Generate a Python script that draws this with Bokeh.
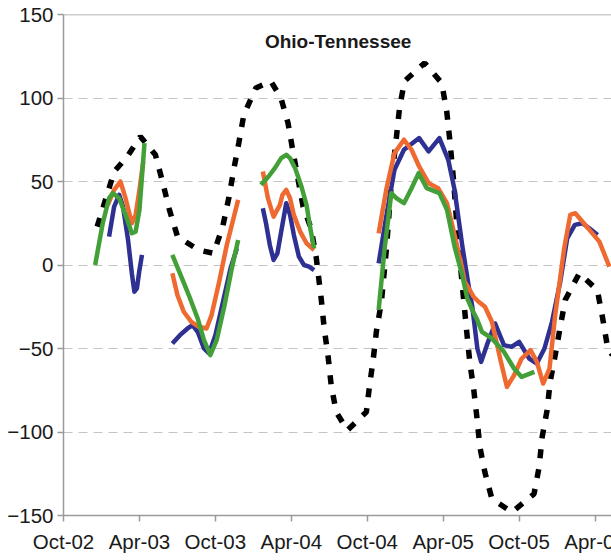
from bokeh.plotting import figure
from bokeh.models import FixedTicker, Span, Label
from bokeh.embed import file_html
from bokeh.resources import INLINE

nan = float("nan")

# x values are months since Oct-2002
tick_months = [0, 6, 12, 18, 24, 30, 36, 42]
tick_labels = ["Oct-02", "Apr-03", "Oct-03", "Apr-04", "Oct-04", "Apr-05", "Oct-05", "Apr-06"]
y_ticks = [-150, -100, -50, 0, 50, 100, 150]
title_text = "Ohio-Tennessee"
y_label = "mm"

dotted_x = [2.66, 4.01, 5.04, 6.07, 7.26, 7.82, 8.37, 9.01, 10.67, 11.86, 12.58, 13.06, 13.45, 13.85,
            14.25, 15.2, 16.39, 17.18, 17.74, 18.13, 18.93, 19.56, 19.96, 20.36, 20.6, 20.91, 21.15,
            21.55, 22.42, 23.93, 24.17, 24.48, 24.72, 25.12, 25.52, 25.91, 26.31, 26.55, 26.94, 28.53,
            29.88, 30.28, 30.52, 30.83, 31.07, 31.47, 31.86, 32.1, 32.42, 32.66, 32.9, 33.29, 33.85,
            35.44, 37.18, 37.58, 37.82, 38.21, 38.45, 38.85, 39.25, 39.64, 40.75, 42.18, 42.58, 42.98, 43.37]
dotted_y = [23, 56, 65, 77, 66, 50, 33, 17, 9, 7, 23, 40, 57, 73,
            90, 106, 110, 100, 85, 68, 35, 22, 5, -20, -38, -55, -72,
            -88, -99, -88, -73, -56, -40, -22, 10, 50, 77, 94, 110, 121,
            109, 92, 75, 50, 25, -9, -40, -58, -75, -91, -109, -124, -140,
            -148, -137, -121, -103, -87, -70, -54, -37, -21, -5, -15, -31, -49, -54]

blue_x = [3.6, 4.0, 4.4, 4.7, 5.1, 5.4, 5.6, 5.8, 6.0, 6.2, nan,
          8.6, 9.2, 9.8, 10.2, 10.6, 11.1, 11.5, 12.0, 12.6, 13.2, 13.7, nan,
          15.75, 16.0, 16.3, 16.6, 16.9, 17.2, 17.6, 17.9, 18.2, 18.6, 19.0, 19.4, 19.8, nan,
          24.9, 25.5, 26.15, 26.9, 28.1, 28.85, 29.7, 30.4, 30.9, 31.5, 32.0, 32.3, 32.7, 33.0,
          33.45, 34.1, 34.8, 35.4, 36.0, 36.8, 37.4, 38.0, 38.6, 39.25, 39.8, 40.4, 41.0, 41.55, 42.2]
blue_y = [17, 35, 42, 35, 15, -5, -16, -14, -3, 6, nan,
          -47, -42, -38, -36, -40, -50, -53, -42, -22, -2, 10, nan,
          34, 25, 12, 3, 7, 20, 37, 30, 18, 5, 0, -1, -3, nan,
          1, 29, 57, 69, 76, 68, 76, 63, 45, 12, -12, -25, -50, -58,
          -48, -35, -48, -49, -46, -56, -59, -50, -34, -10, 16, 24, 25, 22, 18]

orange_x = [3.5, 4.0, 4.5, 4.9, 5.4, 5.7, 6.0, 6.3, nan,
            8.6, 9.0, 9.5, 10.1, 10.7, 11.3, 11.7, 12.3, 12.9, 13.5, 13.8, nan,
            15.75, 16.15, 16.6, 17.1, 17.3, 17.6, 17.9, 18.2, 18.7, 19.2, 19.8, nan,
            24.9, 25.5, 26.15, 26.9, 27.5, 28.1, 28.85, 29.6, 30.3, 30.9, 31.5, 31.7, 32.4, 32.8,
            33.3, 33.85, 34.5, 35.04, 35.6, 36.2, 36.9, 37.4, 37.9, 38.4, 38.85, 39.56, 40.04,
            40.44, 41.23, 42.34, 43.13]
orange_y = [36, 45, 50, 40, 25, 30, 45, 62, nan,
            -5, -18, -28, -34, -37, -38, -30, -10, 12, 30, 39, nan,
            56, 40, 29, 36, 42, 45, 40, 30, 20, 13, 9, nan,
            19, 45, 67, 75, 69, 59, 49, 46, 37, 18, -2, -10, -19, -22,
            -25, -34, -56, -73, -66, -56, -51, -58, -71, -62, -30, 10, 30,
            31, 24, 14, -1]

green_x = [2.5, 3.1, 3.6, 3.9, 4.4, 4.9, 5.4, 5.7, 6.0, 6.2, 6.4, nan,
           8.6, 9.2, 9.9, 10.6, 11.1, 11.6, 12.1, 12.7, 13.3, 13.8, nan,
           15.6, 16.2, 16.7, 17.2, 17.6, 17.9, 18.3, 18.8, 19.2, 19.5, 19.8, nan,
           24.9, 25.36, 25.9, 26.3, 26.9, 27.5, 28.06, 28.7, 29.7, 30.3, 30.9, 31.5, 31.9, 32.3,
           32.7, 33.06, 33.85, 34.8, 35.6, 36.2, 37.2]
green_y = [0, 25, 40, 43, 40, 30, 19, 20, 33, 53, 73, nan,
           6, -5, -18, -32, -45, -54, -45, -25, -2, 15, nan,
           48, 53, 58, 64, 66, 64, 58, 47, 36, 22, 10, nan,
           -27, 9, 43, 40, 37, 46, 55, 46, 43, 33, 11, -6, -20, -27,
           -33, -40, -44, -52, -62, -67, -64]

FONT = "Liberation Sans"
AXIS_COLOR = "#9a9a9a"
LABEL_SIZE = "20.5px"

# the chart runs past the right edge of the window, as in the reference
p = figure(width=640, height=560, x_range=(0, 45.59), y_range=(-150, 150),
           output_backend="svg", toolbar_location=None,
           min_border_left=63, min_border_right=0, min_border_top=14, min_border_bottom=45)
p.outline_line_color = None
p.background_fill_color = "white"

p.xgrid.visible = False
p.ygrid.ticker = FixedTicker(ticks=[-100, -50, 0, 50, 100])
p.ygrid.grid_line_color = "#c4c4c4"
p.ygrid.grid_line_dash = "9 6"
p.ygrid.grid_line_width = 1

p.add_layout(Span(location=150, dimension="width", line_color=AXIS_COLOR, line_width=1.5))

p.xaxis.ticker = FixedTicker(ticks=tick_months)
p.xaxis.major_label_overrides = {m: lab for m, lab in zip(tick_months, tick_labels)}
p.yaxis.ticker = FixedTicker(ticks=y_ticks)
for ax in (p.xaxis, p.yaxis):
    ax.axis_line_color = AXIS_COLOR
    ax.axis_line_width = 1.5
    ax.major_tick_line_color = AXIS_COLOR
    ax.major_tick_line_width = 1.5
    ax.major_tick_out = 6
    ax.major_tick_in = 0
    ax.minor_tick_line_color = None
    ax.major_label_text_font = FONT
    ax.major_label_text_font_size = LABEL_SIZE
    ax.major_label_text_color = "#1a1a1a"
p.yaxis.major_label_standoff = 4
p.xaxis.major_label_standoff = 8

p.line(dotted_x, dotted_y, line_color="black", line_width=5.5, line_dash="9 11")
p.line(blue_x, blue_y, line_color="#2E3192", line_width=4.5, line_join="round")
p.line(orange_x, orange_y, line_color="#EE6A30", line_width=4.5, line_join="round")
p.line(green_x, green_y, line_color="#43A038", line_width=4.5, line_join="round")

p.add_layout(Label(x=21.7, y=134, text=title_text, text_font=FONT, text_font_style="bold",
                   text_font_size="19px", text_align="center", text_baseline="middle",
                   text_color="#1a1a1a"))
p.add_layout(Label(x=-3.65, y=0, text=y_label, text_font=FONT, text_font_size=LABEL_SIZE,
                   angle=1.5708, text_align="center", text_baseline="middle",
                   text_color="#1a1a1a"))

open("out.html", "w").write(file_html(p, INLINE))
